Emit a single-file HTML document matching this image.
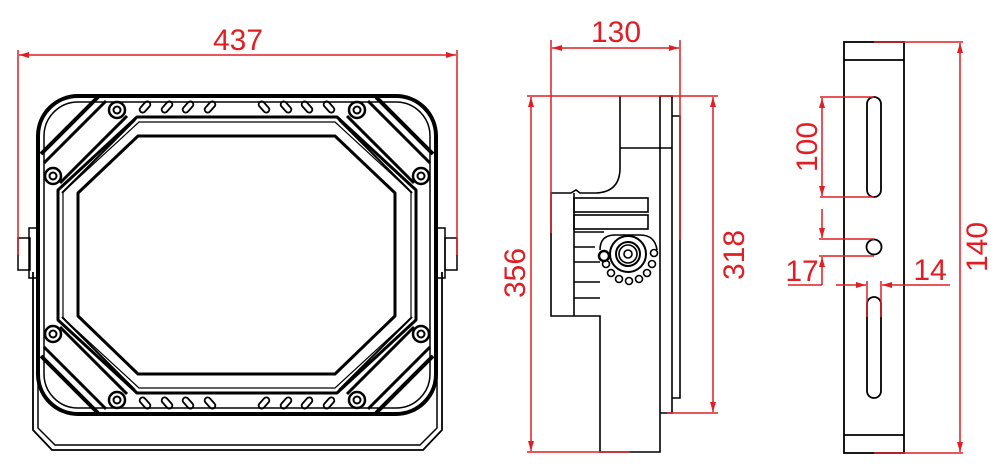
<!DOCTYPE html>
<html><head><meta charset="utf-8"><style>
html,body{margin:0;padding:0;background:#fff;width:1000px;height:467px;overflow:hidden}
svg text{font-family:"Liberation Sans",sans-serif;font-size:30px;fill:#e01e24}
</style></head><body>
<svg width="1000" height="467" viewBox="0 0 1000 467" xmlns="http://www.w3.org/2000/svg">
<defs>
<marker id="a" viewBox="0 0 10 6" refX="10" refY="3" markerWidth="10" markerHeight="6" orient="auto-start-reverse" markerUnits="userSpaceOnUse"><path d="M0,0 L10,3 L0,6 z" fill="#e01e24"/></marker>
<g id="corner">
 <line x1="98" y1="97" x2="41" y2="154" stroke="#000" stroke-width="4"/>
 <line x1="106" y1="101" x2="44" y2="163" stroke="#000" stroke-width="3"/>
 <line x1="127" y1="116" x2="60" y2="183" stroke="#000" stroke-width="3"/>
 <line x1="135" y1="120" x2="62" y2="193" stroke="#000" stroke-width="2"/>
 <circle cx="117" cy="110" r="8" fill="#fff" stroke="#000" stroke-width="2.5"/>
 <circle cx="117" cy="110" r="3.5" fill="none" stroke="#000" stroke-width="2"/>
 <circle cx="53" cy="176" r="8" fill="#fff" stroke="#000" stroke-width="2.5"/>
 <circle cx="53" cy="176" r="3.5" fill="none" stroke="#000" stroke-width="2"/>
 <g fill="none" stroke="#000" stroke-width="1.8">
  <rect x="142" y="100.5" width="6" height="13" rx="3" transform="rotate(42 145 107)"/>
  <rect x="164" y="100.5" width="6" height="13" rx="3" transform="rotate(42 167 107)"/>
  <rect x="185" y="100.5" width="6" height="13" rx="3" transform="rotate(42 188 107)"/>
  <rect x="207" y="100.5" width="6" height="13" rx="3" transform="rotate(42 210 107)"/>
 </g>
</g>
</defs>

<!-- FRONT VIEW -->
<g fill="none" stroke="#000">
 <path d="M33,272 L33,430 L52,450 L423,450 L442,430 L442,272" stroke-width="1.8"/>
 <path d="M38,272 L38,428 L55,445 L420,445 L437,428 L437,272" stroke-width="1.5"/>
 <rect x="18" y="238" width="12" height="32" stroke-width="1.5"/>
 <rect x="29" y="228" width="8" height="50" stroke-width="1.5"/>
 <rect x="445" y="238" width="12" height="32" stroke-width="1.5"/>
 <rect x="437" y="228" width="8" height="50" stroke-width="1.5"/>
 <rect x="38" y="96" width="398" height="318" rx="40" fill="#fff" stroke-width="4"/>
 <rect x="44" y="102" width="386" height="306" rx="34" stroke-width="1.5"/>
 <path d="M137,117 L337,117 L416,190 L416,320 L337,393 L137,393 L58,320 L58,190 Z" stroke-width="3" stroke-linejoin="round"/>
 <path d="M139,122 L335,122 L411,192 L411,318 L335,388 L139,388 L63,318 L63,192 Z" stroke-width="1.2" stroke-linejoin="round"/>
 <path d="M138,136 L335,136 L395,193 L395,316 L335,374 L138,374 L78,316 L78,193 Z" stroke-width="3" stroke-linejoin="round"/>
</g>
<use href="#corner"/>
<use href="#corner" transform="translate(474,0) scale(-1,1)"/>
<use href="#corner" transform="translate(0,510) scale(1,-1)"/>
<use href="#corner" transform="translate(474,510) scale(-1,-1)"/>

<g stroke="#e01e24" stroke-width="1.5" fill="none">
 <line x1="18" y1="50" x2="18" y2="255"/>
 <line x1="457" y1="50" x2="457" y2="255"/>
 <line x1="19" y1="55" x2="456" y2="55" marker-start="url(#a)" marker-end="url(#a)"/>
</g>
<text x="238" y="50" text-anchor="middle">437</text>

<!-- SIDE VIEW -->
<g fill="none" stroke="#000" stroke-width="1.6">
 <path d="M620,96 L620,168 Q620,192 596,193 L580,193 L576,190 L571,193 L551,193 L551,316 L600,316 L600,452 L660,452 L660,96"/>
 <line x1="620" y1="148" x2="672" y2="148"/>
 <path d="M660,96 L672,96 L672,413 L660,413"/>
 <path d="M672,116 L680,116 L680,398 L672,398"/>
 <line x1="574" y1="193" x2="574" y2="316"/>
 <rect x="574" y="198" width="74" height="14"/>
 <rect x="574" y="215" width="74" height="14"/>
 <line x1="574" y1="232" x2="604" y2="232"/>
 <line x1="574" y1="247" x2="595" y2="247"/>
 <line x1="574" y1="262" x2="600" y2="262"/>
 <line x1="574" y1="282" x2="600" y2="282"/>
 <line x1="574" y1="298" x2="600" y2="298"/>
 <path d="M600,250 Q600,235 615,235 L640,235 Q655,235 657,250"/>
 <circle cx="628" cy="254" r="18" stroke-width="2"/>
 <circle cx="628" cy="254" r="12" stroke-width="2"/>
 <circle cx="628" cy="254" r="9"/>
 <circle cx="628" cy="254" r="4"/>
 <circle cx="604" cy="256" r="5" stroke-width="2.5"/>
 <circle cx="606" cy="264" r="3.5"/><circle cx="611" cy="273" r="3.5"/><circle cx="619" cy="279" r="3.5"/>
 <circle cx="629" cy="281" r="3.5"/><circle cx="639" cy="279" r="3.5"/><circle cx="647" cy="273" r="3.5"/>
 <circle cx="652" cy="264" r="3.5"/><circle cx="654" cy="253" r="3.5"/>
</g>
<g stroke="#e01e24" stroke-width="1.5" fill="none">
 <line x1="551" y1="40" x2="551" y2="233"/>
 <line x1="680" y1="40" x2="680" y2="240"/>
 <line x1="552" y1="48" x2="679" y2="48" marker-start="url(#a)" marker-end="url(#a)"/>
 <line x1="527" y1="96" x2="718" y2="96"/>
 <line x1="527" y1="452" x2="630" y2="452"/>
 <line x1="667" y1="413" x2="718" y2="413"/>
 <line x1="531" y1="97" x2="531" y2="451" marker-start="url(#a)" marker-end="url(#a)"/>
 <line x1="713" y1="97" x2="713" y2="412" marker-start="url(#a)" marker-end="url(#a)"/>
</g>
<text x="616" y="42" text-anchor="middle">130</text>
<text transform="translate(525,273) rotate(-90)" text-anchor="middle">356</text>
<text transform="translate(744,255) rotate(-90)" text-anchor="middle">318</text>

<!-- RIGHT VIEW -->
<g fill="none" stroke="#000" stroke-width="1.8">
 <rect x="844" y="42" width="60" height="411"/>
 <line x1="844" y1="60" x2="904" y2="60"/>
 <line x1="844" y1="435" x2="904" y2="435"/>
 <rect x="867" y="97" width="14" height="100" rx="7"/>
 <circle cx="874" cy="247" r="7.5"/>
 <rect x="867" y="297" width="14" height="101" rx="7"/>
</g>
<g stroke="#e01e24" stroke-width="1.5" fill="none">
 <line x1="874" y1="42" x2="963" y2="42"/>
 <line x1="874" y1="453" x2="963" y2="453"/>
 <line x1="960" y1="43" x2="960" y2="452" marker-start="url(#a)" marker-end="url(#a)"/>
 <line x1="820" y1="97" x2="874" y2="97"/>
 <line x1="820" y1="197" x2="874" y2="197"/>
 <line x1="822" y1="98" x2="822" y2="196" marker-start="url(#a)" marker-end="url(#a)"/>
 <line x1="819" y1="239" x2="874" y2="239"/>
 <line x1="819" y1="256" x2="874" y2="256"/>
 <line x1="822" y1="209" x2="822" y2="238" marker-end="url(#a)"/>
 <line x1="822" y1="285" x2="822" y2="257" marker-end="url(#a)"/>
 <line x1="788" y1="285" x2="822" y2="285"/>
 <line x1="867" y1="281" x2="867" y2="317"/>
 <line x1="881" y1="281" x2="881" y2="317"/>
 <line x1="836" y1="285" x2="866" y2="285" marker-end="url(#a)"/>
 <line x1="950" y1="285" x2="882" y2="285" marker-end="url(#a)"/>
</g>
<text transform="translate(817,147) rotate(-90)" text-anchor="middle">100</text>
<text x="802" y="281" text-anchor="middle">17</text>
<text x="930" y="280" text-anchor="middle">14</text>
<text transform="translate(987,247) rotate(-90)" text-anchor="middle">140</text>
</svg>
</body></html>
